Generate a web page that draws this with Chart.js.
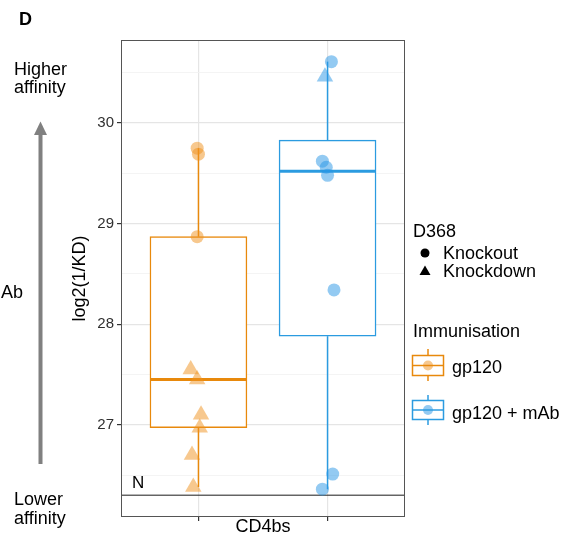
<!DOCTYPE html>
<html>
<head>
<meta charset="utf-8">
<script src="https://cdn.jsdelivr.net/npm/chart.js@4.4.0/dist/chart.umd.min.js"></script>
<style>
  html, body { margin: 0; padding: 0; background: #fff; }
  body { width: 566px; height: 538px; position: relative; overflow: hidden;
         font-family: 'Liberation Sans', Arial, sans-serif; color: #000; }
  #wrap { position: absolute; left: 0; top: 0; width: 566px; height: 538px; }
  .t { position: absolute; font-size: 18px; line-height: 18px; white-space: nowrap; }
  svg { position: absolute; left: 0; top: 0; }
</style>
</head>
<body>
<div id="wrap"><canvas id="myChart" width="566" height="538"></canvas></div>

<!-- panel annotations -->
<div class="t" style="left:19px; top:10px; font-weight:bold; font-size:18px;">D</div>
<div class="t" style="left:14px; top:60px;">Higher<br>affinity</div>
<div class="t" style="left:-14px; top:283px;">mAb</div>
<div class="t" style="left:14px; top:490px; line-height:19px;">Lower<br>affinity</div>
<div class="t" style="left:132px; top:474px; font-size:17px;">N</div>
<svg width="566" height="538">
  <rect x="38.5" y="133" width="4" height="331" fill="#808080"/>
  <polygon points="40.5,121.5 34,135 47,135" fill="#808080"/>
  <!-- legend keys -->
  <circle cx="425" cy="253" r="4.5" fill="#000"/>
  <polygon points="425,265.5 419.5,275 430.5,275" fill="#000"/>
  <g stroke="#E8890C" stroke-width="1.5" fill="#fff">
    <line x1="428" y1="349" x2="428" y2="381"/>
    <rect x="412.5" y="355.5" width="31" height="20"/>
    <circle cx="428" cy="365.5" r="5" fill="rgba(240,145,30,0.5)" stroke="none"/>
    <line x1="412.5" y1="365.5" x2="443.5" y2="365.5"/>
  </g>
  <g stroke="#2B9BE0" stroke-width="1.5" fill="#fff">
    <line x1="428" y1="395" x2="428" y2="425"/>
    <rect x="412.5" y="400.5" width="31" height="19"/>
    <circle cx="428" cy="410" r="5" fill="rgba(40,150,230,0.5)" stroke="none"/>
    <line x1="412.5" y1="410" x2="443.5" y2="410"/>
  </g>
</svg>
<div class="t" style="left:413px; top:222px;">D368</div>
<div class="t" style="left:443px; top:244px;">Knockout</div>
<div class="t" style="left:443px; top:262px;">Knockdown</div>
<div class="t" style="left:413px; top:322px;">Immunisation</div>
<div class="t" style="left:452px; top:358px;">gp120</div>
<div class="t" style="left:452px; top:404px;">gp120 + mAb</div>

<script>
var groups = ['gp120', 'gp120 + mAb'];
var groupX = [1, 2];
var groupColors = ['#E8890C', '#2B9BE0'];
var pointColors = ['rgba(240,145,30,0.5)', 'rgba(40,150,230,0.5)'];

// box statistics
var boxMin = [26.38, 26.36];
var boxQ1 = [26.97, 27.88];
var boxMedian = [27.45, 29.52];
var boxQ3 = [28.87, 29.83];
var boxMax = [29.75, 30.61];

// single measurements, x = jittered position
var gp120KnockoutX = [0.99, 1.00, 0.99];
var gp120KnockoutY = [29.75, 29.69, 28.87];
var gp120KnockdownX = [0.94, 0.99, 1.02, 1.01, 0.95, 0.96];
var gp120KnockdownY = [27.55, 27.45, 27.10, 26.97, 26.70, 26.38];
var mabKnockoutX = [2.03, 1.96, 1.99, 2.00, 2.05, 2.04, 1.96];
var mabKnockoutY = [30.61, 29.62, 29.56, 29.48, 28.34, 26.51, 26.36];
var mabKnockdownX = [1.98];
var mabKnockdownY = [30.46];

var limitN = 26.30;
var xTicks = [1, 2];
var yMin = 26.083, yMax = 30.825;
var boxHalf = 0.375;

function pts(xs, ys) {
    return xs.map(function (x, i) { return {x: x, y: ys[i]}; });
}

var whiskerData = [];
groupX.forEach(function (x, i) {
    whiskerData.push({x: x, y: boxQ3[i]}, {x: x, y: boxMax[i]}, {x: x, y: null},
                     {x: x, y: boxQ1[i]}, {x: x, y: boxMin[i]}, {x: x, y: null});
});

var panelBorder = {
    id: 'panelBorder',
    afterDraw: function (chart) {
        var a = chart.chartArea, c = chart.ctx;
        c.save();
        c.strokeStyle = '#555';
        c.lineWidth = 1;
        c.strokeRect(a.left + 0.5, a.top + 0.5, a.right - a.left - 1, a.bottom - a.top - 1);
        c.restore();
    }
};

Chart.defaults.font.family = "'Liberation Sans', Arial, sans-serif";
Chart.defaults.color = '#303030';

var ctx = document.getElementById("myChart").getContext("2d");
var myChart = new Chart(ctx, {
    type: 'scatter',
    data: {
        datasets: [
            {
                type: 'line',
                data: [{x: 0.4, y: limitN}, {x: 2.6, y: limitN}],
                borderColor: '#1a1a1a', borderWidth: 1, pointRadius: 0, order: 6
            },
            {
                type: 'line',
                data: whiskerData,
                borderColor: groupColors[0],
                segment: {
                    borderColor: function (c) { return groupColors[Math.floor(c.p0DataIndex / 6)]; }
                },
                borderWidth: 1.5, pointRadius: 0, spanGaps: false, order: 5
            },
            {
                type: 'bar',
                data: groupX.map(function (x, i) { return {x: x, y: [boxQ1[i], boxQ3[i]]}; }),
                backgroundColor: '#fff',
                borderColor: groupColors,
                borderWidth: 1.5,
                borderSkipped: false,
                barThickness: 97,
                order: 4
            },
            {
                type: 'line',
                data: [{x: groupX[0] - boxHalf, y: boxMedian[0]}, {x: groupX[0] + boxHalf, y: boxMedian[0]}],
                borderColor: groupColors[0], borderWidth: 3, pointRadius: 0, order: 3
            },
            {
                type: 'line',
                data: [{x: groupX[1] - boxHalf, y: boxMedian[1]}, {x: groupX[1] + boxHalf, y: boxMedian[1]}],
                borderColor: groupColors[1], borderWidth: 3, pointRadius: 0, order: 3
            },
            {
                label: 'gp120 Knockout',
                data: pts(gp120KnockoutX, gp120KnockoutY),
                pointStyle: 'circle', pointRadius: 6.5, pointBorderWidth: 0,
                backgroundColor: pointColors[0], order: 1
            },
            {
                label: 'gp120 Knockdown',
                data: pts(gp120KnockdownX, gp120KnockdownY),
                pointStyle: 'triangle', pointRadius: 9.5, pointBorderWidth: 0,
                backgroundColor: pointColors[0], order: 1
            },
            {
                label: 'gp120 + mAb Knockout',
                data: pts(mabKnockoutX, mabKnockoutY),
                pointStyle: 'circle', pointRadius: 6.5, pointBorderWidth: 0,
                backgroundColor: pointColors[1], order: 1
            },
            {
                label: 'gp120 + mAb Knockdown',
                data: pts(mabKnockdownX, mabKnockdownY),
                pointStyle: 'triangle', pointRadius: 9.5, pointBorderWidth: 0,
                backgroundColor: pointColors[1], order: 1
            }
        ]
    },
    options: {
        responsive: false,
        animation: false,
        events: [],
        layout: { padding: { left: 65, top: 40, right: 161, bottom: 0 } },
        plugins: {
            legend: { display: false },
            tooltip: { enabled: false }
        },
        scales: {
            x: {
                type: 'linear',
                min: 0.4, max: 2.6, offset: false,
                afterBuildTicks: function (s) { s.ticks = xTicks.map(function (v) { return {value: v}; }); },
                afterFit: function (s) { s.height = 21; },
                ticks: { callback: function () { return ''; } },
                grid: { offset: false, color: '#E5E5E5', lineWidth: 1.2, tickLength: 4, tickColor: '#333' },
                border: { display: false },
                title: { display: true, text: 'CD4bs', color: '#000',
                         font: { size: 18, lineHeight: 1 }, padding: { top: 0, bottom: 1.5 } }
            },
            y: {
                min: yMin, max: yMax,
                afterFit: function (s) { s.width = 56; },
                ticks: {
                    stepSize: 0.5, includeBounds: false, padding: 3,
                    font: { size: 15 }, color: '#303030',
                    callback: function (v) { return Number.isInteger(v) ? v : ''; }
                },
                grid: {
                    color: function (c) { return Number.isInteger(c.tick.value) ? '#E5E5E5' : '#F1F1F1'; },
                    lineWidth: function (c) { return Number.isInteger(c.tick.value) ? 1.2 : 0.8; },
                    tickLength: 4,
                    tickColor: function (c) { return Number.isInteger(c.tick.value) ? '#333' : 'rgba(0,0,0,0)'; }
                },
                border: { display: false },
                title: { display: true, text: 'log2(1/KD)', color: '#000', font: { size: 18 } }
            }
        }
    },
    plugins: [panelBorder]
});
</script>
</body>
</html>
